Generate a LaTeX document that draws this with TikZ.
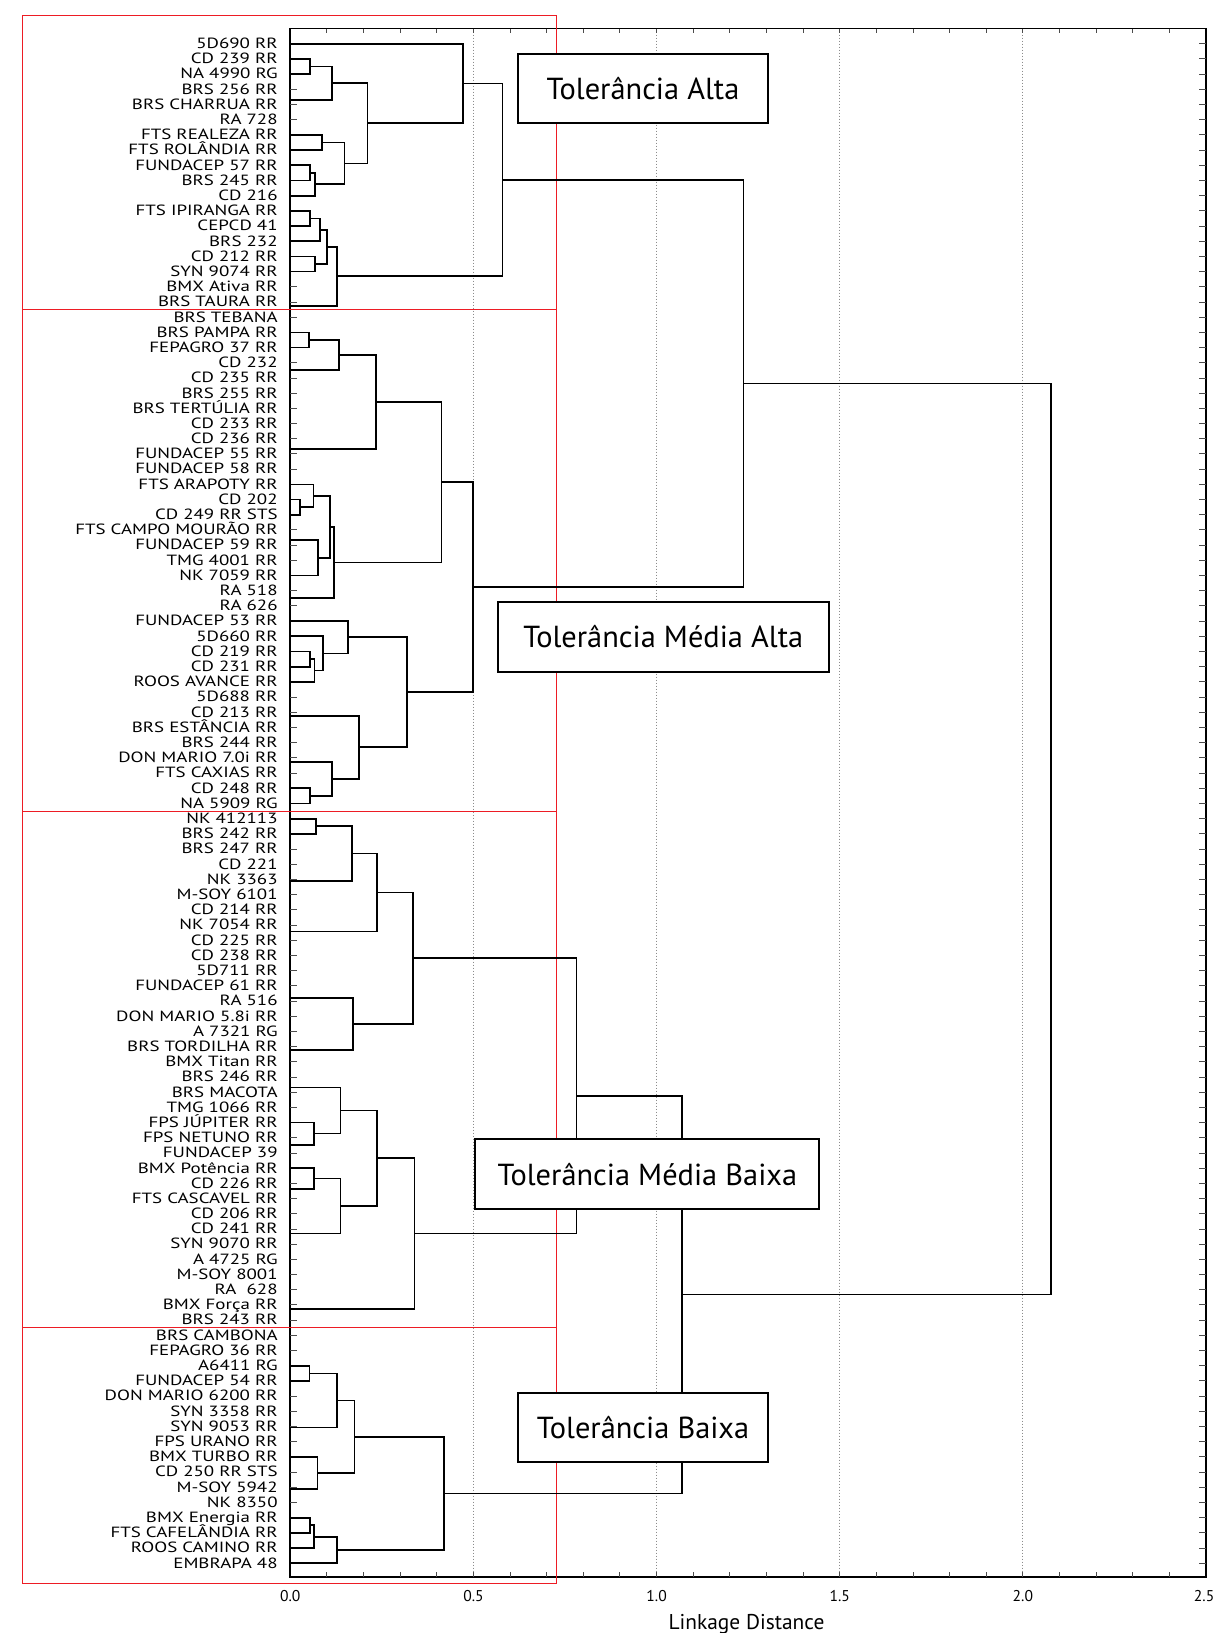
\documentclass[tikz,border=0pt]{standalone}
\usepackage{fontspec}
\setmainfont{PT Sans}
\newfontfamily\leaffont[FakeStretch=1.28]{PT Sans}
\usetikzlibrary{calc}
\definecolor{framered}{RGB}{237,28,36}
\def\hunit{183.15pt}
\newcommand\clusterjoin[4]{%
  \draw[tree] let \p1=(#2), \p2=(#3) in
    (\p1) -- (#4*\hunit,\y1) -- (#4*\hunit,\y2) -- (\p2)
    (#4*\hunit,{(\y1+\y2)/2}) coordinate (#1);}
\begin{document}
\begin{tikzpicture}[x=183.15pt,y=-7.598pt,
  tree/.style={line width=0.85pt},
  leaf/.style={anchor=base east,inner sep=0pt,xshift=-6.15pt,yshift=-2.4pt,font=\leaffont\fontsize{7.4}{8}\selectfont},
  axlabel/.style={anchor=base,inner sep=0pt,font=\fontsize{7.8}{8}\selectfont},
  tolbox/.style={draw,line width=1pt,fill=white,inner sep=0pt,font=\fontsize{15.2}{18}\selectfont},
  tick/.style={line width=0.5pt,black!70},
  grid/.style={black!45,densely dotted,line width=0.5pt}]
\useasboundingbox (-0.79252,-1.8755) rectangle (2.52443,105.587);

\foreach \v in {0.5,1.0,1.5,2.0}
  \draw[grid] (\v,0) -- (\v,101.9);
\draw[line width=0.85pt] (0,0) rectangle (2.5,101.9);
\foreach \t in {1,...,24} {
  \draw[tick] (\t/10,0) -- (\t/10,0.3);
  \draw[tick] (\t/10,101.9) -- (\t/10,101.6);
}
\foreach \v in {0.0,0.5,1.0,1.5,2.0}
  \node[axlabel] at (\v,103.48) {\v};
\node[axlabel,anchor=base east] (lastlabel) at (2.5235,103.48) {2.5};
\node[anchor=base,inner sep=0pt,font=\fontsize{10.7}{12}\selectfont] (xtitle) at (1.2454,105.34) {Linkage Distance};

\foreach \name [count=\i] in {5D690 RR, CD 239 RR, NA 4990 RG, BRS 256 RR, BRS CHARRUA RR, RA 728,
  FTS REALEZA RR, FTS ROLÂNDIA RR, FUNDACEP 57 RR, BRS 245 RR, CD 216, FTS IPIRANGA RR, CEPCD 41,
  BRS 232, CD 212 RR, SYN 9074 RR, BMX Ativa RR, BRS TAURA RR, BRS TEBANA, BRS PAMPA RR,
  FEPAGRO 37 RR, CD 232, CD 235 RR, BRS 255 RR, BRS TERTÚLIA RR, CD 233 RR, CD 236 RR,
  FUNDACEP 55 RR, FUNDACEP 58 RR, FTS ARAPOTY RR, CD 202, CD 249 RR STS, FTS CAMPO MOURÃO RR,
  FUNDACEP 59 RR, TMG 4001 RR, NK 7059 RR, RA 518, RA 626, FUNDACEP 53 RR, 5D660 RR, CD 219 RR,
  CD 231 RR, ROOS AVANCE RR, 5D688 RR, CD 213 RR, BRS ESTÂNCIA RR, BRS 244 RR, DON MARIO 7.0i RR,
  FTS CAXIAS RR, CD 248 RR, NA 5909 RG, NK 412113, BRS 242 RR, BRS 247 RR, CD 221, NK 3363,
  M-SOY 6101, CD 214 RR, NK 7054 RR, CD 225 RR, CD 238 RR, 5D711 RR, FUNDACEP 61 RR, RA 516,
  DON MARIO 5.8i RR, A 7321 RG, BRS TORDILHA RR, BMX Titan RR, BRS 246 RR, BRS MACOTA,
  TMG 1066 RR, FPS JÚPITER RR, FPS NETUNO RR, FUNDACEP 39, BMX Potência RR, CD 226 RR,
  FTS CASCAVEL RR, CD 206 RR, CD 241 RR, SYN 9070 RR, A 4725 RG, M-SOY 8001, RA\ \ 628,
  BMX Força RR, BRS 243 RR, BRS CAMBONA, FEPAGRO 36 RR, A6411 RG, FUNDACEP 54 RR,
  DON MARIO 6200 RR, SYN 3358 RR, SYN 9053 RR, FPS URANO RR, BMX TURBO RR, CD 250 RR STS,
  M-SOY 5942, NK 8350, BMX Energia RR, FTS CAFELÂNDIA RR, ROOS CAMINO RR, EMBRAPA 48} {
  \coordinate (l\i) at (0,\i);
  \node[leaf] (name\i) at (l\i) {\name};
  \draw[tick] (0,\i) -- (0.018,\i);
  \draw[tick] (2.5,\i) -- (2.482,\i);
}

\draw[framered,line width=0.5pt] (-0.7311,-0.888) rectangle (0.7262,102.316);
\foreach \d in {18.5,51.5,85.5}
  \draw[framered,line width=0.5pt] (-0.7311,\d) -- (0.7262,\d);

\clusterjoin{c23}{l2}{l3}{0.054}
\coordinate (z4) at (0,4.71);
\clusterjoin{c2to6}{c23}{z4}{0.114}
\clusterjoin{c78}{l7}{l8}{0.087}
\clusterjoin{c9to10}{l9}{l10}{0.054}
\clusterjoin{c9to11}{c9to10}{l11}{0.067}
\clusterjoin{c7to11}{c78}{c9to11}{0.148}
\clusterjoin{c2to11}{c2to6}{c7to11}{0.211}
\clusterjoin{c1to11}{l1}{c2to11}{0.471}
\clusterjoin{c12to13}{l12}{l13}{0.054}
\clusterjoin{c12to14}{c12to13}{l14}{0.081}
\clusterjoin{c15to16}{l15}{l16}{0.068}
\clusterjoin{c12to16}{c12to14}{c15to16}{0.101}
\coordinate (z17) at (0,18.24);
\clusterjoin{c12to19}{c12to16}{z17}{0.128}
\clusterjoin{alta}{c1to11}{c12to19}{0.579}

\clusterjoin{c20to21}{l20}{l21}{0.051}
\coordinate (z22) at (0,22.47);
\clusterjoin{c20to22}{c20to21}{z22}{0.133}
\coordinate (z23) at (0,27.69);
\clusterjoin{c20to29}{c20to22}{z23}{0.233}
\clusterjoin{c31to32}{l31}{l32}{0.027}
\clusterjoin{c30to32}{l30}{c31to32}{0.063}
\coordinate (z33) at (0,33.66);
\clusterjoin{c33to36}{z33}{l36}{0.076}
\clusterjoin{c30to36}{c30to32}{c33to36}{0.108}
\coordinate (z37) at (0,37.49);
\clusterjoin{c30to38}{c30to36}{z37}{0.119}
\clusterjoin{c20to38}{c20to29}{c30to38}{0.413}
\clusterjoin{c41to42}{l41}{l42}{0.054}
\clusterjoin{c41to43}{c41to42}{l43}{0.066}
\clusterjoin{c40to43}{l40}{c41to43}{0.089}
\clusterjoin{c39to43}{l39}{c40to43}{0.157}
\coordinate (z44) at (0,45.22);
\coordinate (z48) at (0,48.25);
\clusterjoin{c50to51}{l50}{l51}{0.054}
\clusterjoin{c48to51}{z48}{c50to51}{0.114}
\clusterjoin{c44to51}{z44}{c48to51}{0.187}
\clusterjoin{c39to51}{c39to43}{c44to51}{0.319}
\clusterjoin{mediaalta}{c20to38}{c39to51}{0.498}
\clusterjoin{upper}{alta}{mediaalta}{1.237}

\clusterjoin{c52to53}{l52}{l53}{0.070}
\coordinate (z56) at (0,56.08);
\clusterjoin{c52to56}{c52to53}{z56}{0.168}
\coordinate (z57) at (0,59.43);
\clusterjoin{c52to59}{c52to56}{z57}{0.236}
\coordinate (z60) at (0,63.8);
\coordinate (z65) at (0,67.2);
\clusterjoin{c60to67}{z60}{z65}{0.171}
\clusterjoin{c52to67}{c52to59}{c60to67}{0.335}
\coordinate (z68) at (0,69.69);
\coordinate (z73) at (0,73.45);
\clusterjoin{c72to74}{l72}{z73}{0.065}
\clusterjoin{c68to74}{z68}{c72to74}{0.137}
\coordinate (z76) at (0,76.37);
\clusterjoin{c75to77}{l75}{z76}{0.065}
\coordinate (z78) at (0,79.3);
\clusterjoin{c75to80}{c75to77}{z78}{0.137}
\clusterjoin{c68to80}{c68to74}{c75to80}{0.236}
\coordinate (z81) at (0,84.25);
\clusterjoin{c68to85}{c68to80}{z81}{0.339}
\clusterjoin{mediabaixa}{c52to67}{c68to85}{0.781}

\clusterjoin{c88to89}{l88}{l89}{0.052}
\coordinate (z90) at (0,92.07);
\clusterjoin{c88to92}{c88to89}{z90}{0.127}
\coordinate (z95) at (0,96.13);
\clusterjoin{c94to97}{l94}{z95}{0.074}
\clusterjoin{c88to97}{c88to92}{c94to97}{0.175}
\clusterjoin{c98to99}{l98}{l99}{0.054}
\clusterjoin{c98to100}{c98to99}{l100}{0.065}
\clusterjoin{c98to101}{c98to100}{l101}{0.127}
\clusterjoin{baixa}{c88to97}{c98to101}{0.419}
\clusterjoin{lower}{mediabaixa}{baixa}{1.070}
\clusterjoin{root}{upper}{lower}{2.076}

\node[tolbox,minimum width=124.7pt,minimum height=34.35pt] (boxalta) at (0.9629,3.939) {Tolerância Alta};
\node[tolbox,minimum width=165.45pt,minimum height=34.7pt] (boxmediaalta) at (1.0182,40.045) {Tolerância Média Alta};
\node[tolbox,minimum width=172.05pt,minimum height=34.85pt] (boxmediabaixa) at (0.9748,75.395) {Tolerância Média Baixa};
\node[tolbox,minimum width=124.65pt,minimum height=34.5pt] (boxbaixa) at (0.963,92.045) {Tolerância Baixa};
\end{tikzpicture}
\end{document}
